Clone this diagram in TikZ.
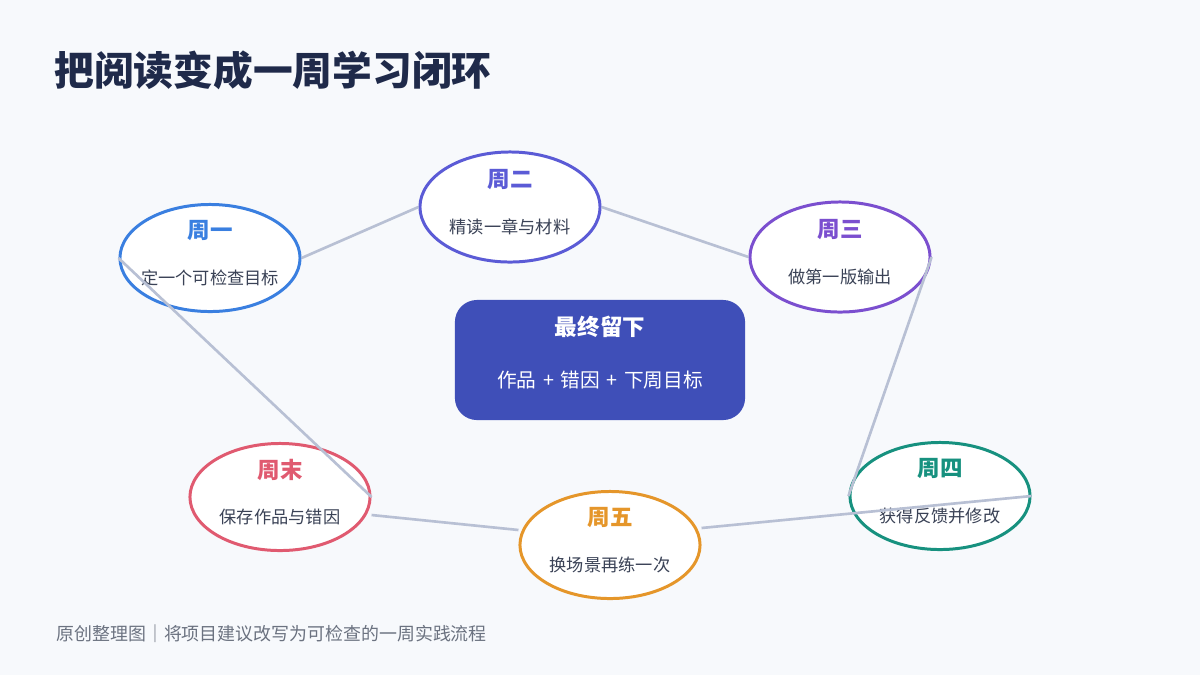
\documentclass[tikz,border=0pt]{standalone}
\usepackage{fontspec}
\setmainfont{Noto Sans CJK SC}
\usetikzlibrary{shapes.geometric}
\definecolor{bg}{HTML}{F7F9FC}
\definecolor{ttl}{HTML}{1F2A4A}
\definecolor{ln}{HTML}{B8C0D4}
\definecolor{cbox}{HTML}{3F4FB8}
\definecolor{cA}{HTML}{3A7FE0}
\definecolor{cB}{HTML}{5B5BD6}
\definecolor{cC}{HTML}{7B4FCF}
\definecolor{cD}{HTML}{17917F}
\definecolor{cE}{HTML}{E5962A}
\definecolor{cF}{HTML}{E05A70}
\definecolor{txt}{HTML}{3A4256}
\definecolor{foot}{HTML}{6B7280}
\begin{document}
\begin{tikzpicture}[x=0.01cm,y=-0.01cm,
  ell/.style={ellipse,draw=#1,line width=0.85pt,fill=white,minimum width=1.8cm,minimum height=1.07cm,inner sep=0pt},
  lab/.style={font=\fontsize{6.4pt}{7pt}\selectfont\bfseries,text=#1},
  body/.style={font=\fontsize{4.9pt}{6pt}\selectfont,text=txt},
  conn/.style={draw=ln,line width=0.75pt}]
\fill[bg] (0,0) rectangle (1200,675);
\useasboundingbox (0,0) rectangle (1200,675);
\node[anchor=west,text=ttl,font=\fontsize{11.3pt}{13pt}\selectfont\bfseries] (title) at (42,70) {把阅读变成一周学习闭环};
\node[ell=cA] (d1) at (210,258) {};
\node[ell=cB,minimum height=1.1cm] (d2) at (510,207) {};
\node[ell=cC,minimum height=1.1cm] (d3) at (840,257) {};
\node[ell=cD] (d4) at (940,496) {};
\node[ell=cE] (d5) at (610,545) {};
\node[ell=cF] (d6) at (280,497) {};
\foreach \n/\c/\a/\b in {d1/cA/周一/定一个可检查目标,d2/cB/周二/精读一章与材料,d3/cC/周三/做第一版输出,d4/cD/周四/获得反馈并修改,d5/cE/周五/换场景再练一次,d6/cF/周末/保存作品与错因}{
  \node[lab=\c] (\n t) at ([yshift=0.27cm]\n.center) {\a};
  \node[body] (\n b) at ([yshift=-0.2cm]\n.center) {\b};
}
\draw[conn] (d1.east) -- (d2.west);
\draw[conn] (d2.east) -- (d3.west);
\draw[conn] (d3.east) -- (d4.west);
\draw[conn] (d4.east) -- ([yshift=0.17cm]d5.east);
\draw[conn] ([yshift=0.15cm]d5.west) -- ([yshift=-0.18cm]d6.east);
\draw[conn] (d6.east) -- (d1.west);
\node[fill=cbox,rounded corners=0.22cm,minimum width=2.9cm,minimum height=1.2cm] (c) at (600,360) {};
\node[text=white,font=\fontsize{6.4pt}{7pt}\selectfont\bfseries] (ct) at (600,327) {最终留下};
\node[text=white,font=\fontsize{5.6pt}{7pt}\selectfont] (cb) at (600,380) {作品\,\,+\,\,错因\,\,+\,\,下周目标};
\node[anchor=west,text=foot,font=\fontsize{5.1pt}{6pt}\selectfont] (ft) at (44,634) {原创整理图｜将项目建议改写为可检查的一周实践流程};
\end{tikzpicture}
\end{document}
